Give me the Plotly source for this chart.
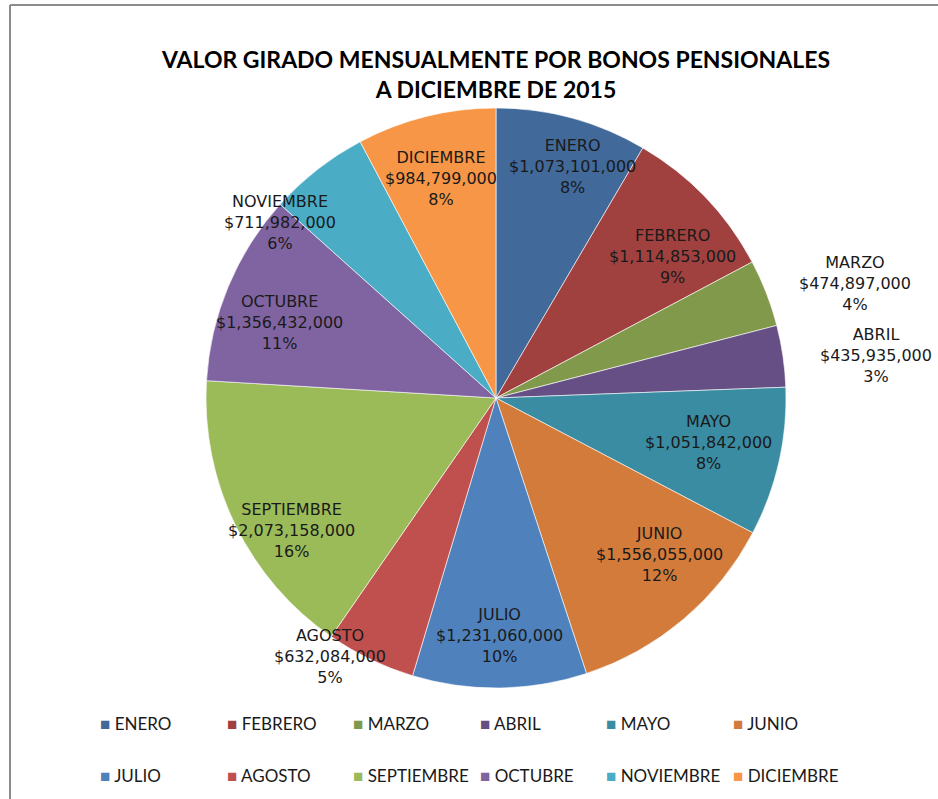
import math
import plotly.graph_objects as go

months = ["ENERO", "FEBRERO", "MARZO", "ABRIL", "MAYO", "JUNIO",
          "JULIO", "AGOSTO", "SEPTIEMBRE", "OCTUBRE", "NOVIEMBRE", "DICIEMBRE"]
values = [1073101000, 1114853000, 474897000, 435935000, 1051842000, 1556055000,
          1231060000, 632084000, 2073158000, 1356432000, 711982000, 984799000]
colors = ["#41699A", "#A0413F", "#80994A", "#664F84", "#3A8CA2", "#D27B3A",
          "#4F81BD", "#C0504D", "#9BBB59", "#8064A2", "#4BACC6", "#F79646"]

# label placement style (Excel "best fit"): radial fraction and angular nudge (deg)
label_r = [0.84, 0.78, 1.30, 1.32, 0.75, 0.78, 0.82, 1.06, 0.84, 0.79, 0.96, 0.78]
label_nudge = [3, 5, 3.5, 2, -1, -6, 0, 7, -7, -3.5, -13, 0]

W, H = 938, 799


def fx(px):
    return px / W


def fy(py):
    return 1 - py / H


cx, cy, R = 496, 398, 290

fig = go.Figure()
fig.add_trace(go.Pie(
    labels=months, values=values, sort=False, direction="clockwise", rotation=0,
    marker=dict(colors=colors, line=dict(color="rgba(255,255,255,0.6)", width=1)),
    textinfo="none",
    showlegend=False,
    hoverinfo="label+value+percent",
    domain=dict(x=[fx(cx - R), fx(cx + R)], y=[fy(cy + R), fy(cy - R)]),
))

# data labels: placed on each slice's mid-angle (derived from the values)
total = sum(values)
cum = 0
for i, (m, v) in enumerate(zip(months, values)):
    mid = (cum + v / 2) / total * 360 + label_nudge[i]
    cum += v
    a = math.radians(mid)
    r = R * label_r[i]
    px = cx + r * math.sin(a)
    py = cy - r * math.cos(a)
    pct = round(v / total * 100)
    fig.add_annotation(
        x=fx(px), y=fy(py), xref="paper", yref="paper",
        xanchor="center", yanchor="middle", showarrow=False,
        text=f"{m}<br>${v:,}<br>{pct}%",
        font=dict(family="DejaVu Sans", size=16, color="#1a1a1a"),
    )

# legend built as annotations (two rows of six)
col_x = [104 + 126.6 * i for i in range(6)]
row_y = [723, 775]
for i, (m, c) in enumerate(zip(months, colors)):
    x = col_x[i % 6]
    y = row_y[i // 6]
    fig.add_annotation(
        x=fx(x - 6), y=fy(y), xref="paper", yref="paper",
        xanchor="left", yanchor="middle", showarrow=False,
        text=f"<span style='color:{c}'>■</span> {m}",
        font=dict(family="Lato", size=17, color="#1a1a1a"),
    )

# chart area frame (left and top edges visible)
fig.add_shape(type="line", xref="paper", yref="paper",
              x0=fx(10), x1=fx(10), y0=0, y1=fy(5),
              line=dict(color="#8c8c8c", width=2))
fig.add_shape(type="line", xref="paper", yref="paper",
              x0=fx(10), x1=1, y0=fy(5), y1=fy(5),
              line=dict(color="#8c8c8c", width=2))

fig.update_layout(
    width=W, height=H,
    margin=dict(l=0, r=0, t=0, b=0),
    paper_bgcolor="white", plot_bgcolor="white",
    title=dict(
        text="<b>VALOR GIRADO MENSUALMENTE POR BONOS PENSIONALES<br>A DICIEMBRE DE 2015</b>",
        x=fx(496), xanchor="center", y=fy(68), yanchor="middle",
        font=dict(family="Lato", size=23, color="#000000"),
    ),
)

fig.write_html("out.html", config={"displayModeBar": False},
               post_script="document.body.style.margin='0';")
